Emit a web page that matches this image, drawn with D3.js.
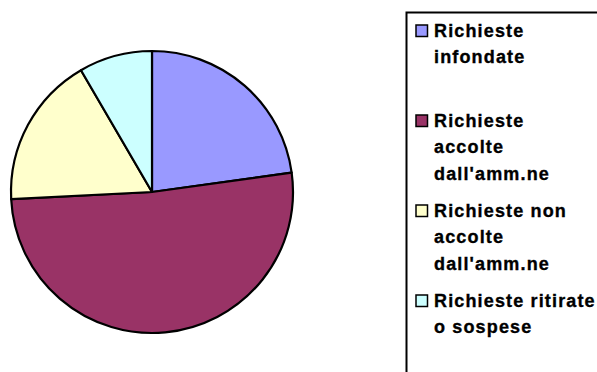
<!DOCTYPE html>
<html>
<head>
<meta charset="utf-8">
<script src="https://cdn.jsdelivr.net/npm/d3@7"></script>
<style>
  html, body { margin: 0; padding: 0; background: #fff; }
  svg { display: block; }
  .legend-text { font-family: Arial, "Liberation Sans", sans-serif; font-weight: 700; font-size: 18px; letter-spacing: 1.15px; fill: #000; stroke: #000; stroke-width: 0.35px; }
</style>
</head>
<body>
<svg id="chart" width="597" height="372"></svg>
<script>
// categories (legend lines) and values (percent of total)
const categories = [
    ["Richieste", "infondate"],
    ["Richieste", "accolte", "dall'amm.ne"],
    ["Richieste non", "accolte", "dall'amm.ne"],
    ["Richieste ritirate", "o sospese"]
];
const values = [22.8, 51.4, 17.4, 8.4];
const colors = ["#9999ff", "#993366", "#ffffcc", "#ccffff"];

const width = 597;
const height = 372;
const cx = 152, cy = 192, r = 141;

const svg = d3.select('#chart');

// Pie
const pie = d3.pie().sort(null).value(d => d)(values);
const arc = d3.arc().innerRadius(0).outerRadius(r);

svg.append('g')
    .attr('transform', `translate(${cx}, ${cy})`)
    .selectAll('path')
    .data(pie)
    .enter()
    .append('path')
    .attr('d', arc)
    .attr('fill', (d, i) => colors[i])
    .attr('stroke', '#000')
    .attr('stroke-width', 2.2)
    .attr('stroke-linejoin', 'round');

// Legend box (runs off the right and bottom edges)
svg.append('rect')
    .attr('x', 406.5)
    .attr('y', 12.5)
    .attr('width', 300)
    .attr('height', 400)
    .attr('fill', '#fff')
    .attr('stroke', '#000')
    .attr('stroke-width', 2);

const entryY = d3.scalePoint().domain(d3.range(categories.length)).range([37, 307]);
const lineH = 26.3;

const items = svg.append('g')
    .selectAll('g.item')
    .data(categories)
    .enter()
    .append('g')
    .classed('item', true)
    .attr('transform', (d, i) => `translate(0, ${entryY(i)})`);

items.append('rect')
    .attr('x', 416)
    .attr('y', -12)
    .attr('width', 11.5)
    .attr('height', 11.5)
    .attr('fill', (d, i) => colors[i])
    .attr('stroke', '#000')
    .attr('stroke-width', 1.5);

items.append('text')
    .classed('legend-text', true)
    .selectAll('tspan')
    .data(d => d)
    .enter()
    .append('tspan')
    .attr('x', 434)
    .attr('y', (d, j) => j * lineH)
    .text(d => d);
</script>
</body>
</html>
